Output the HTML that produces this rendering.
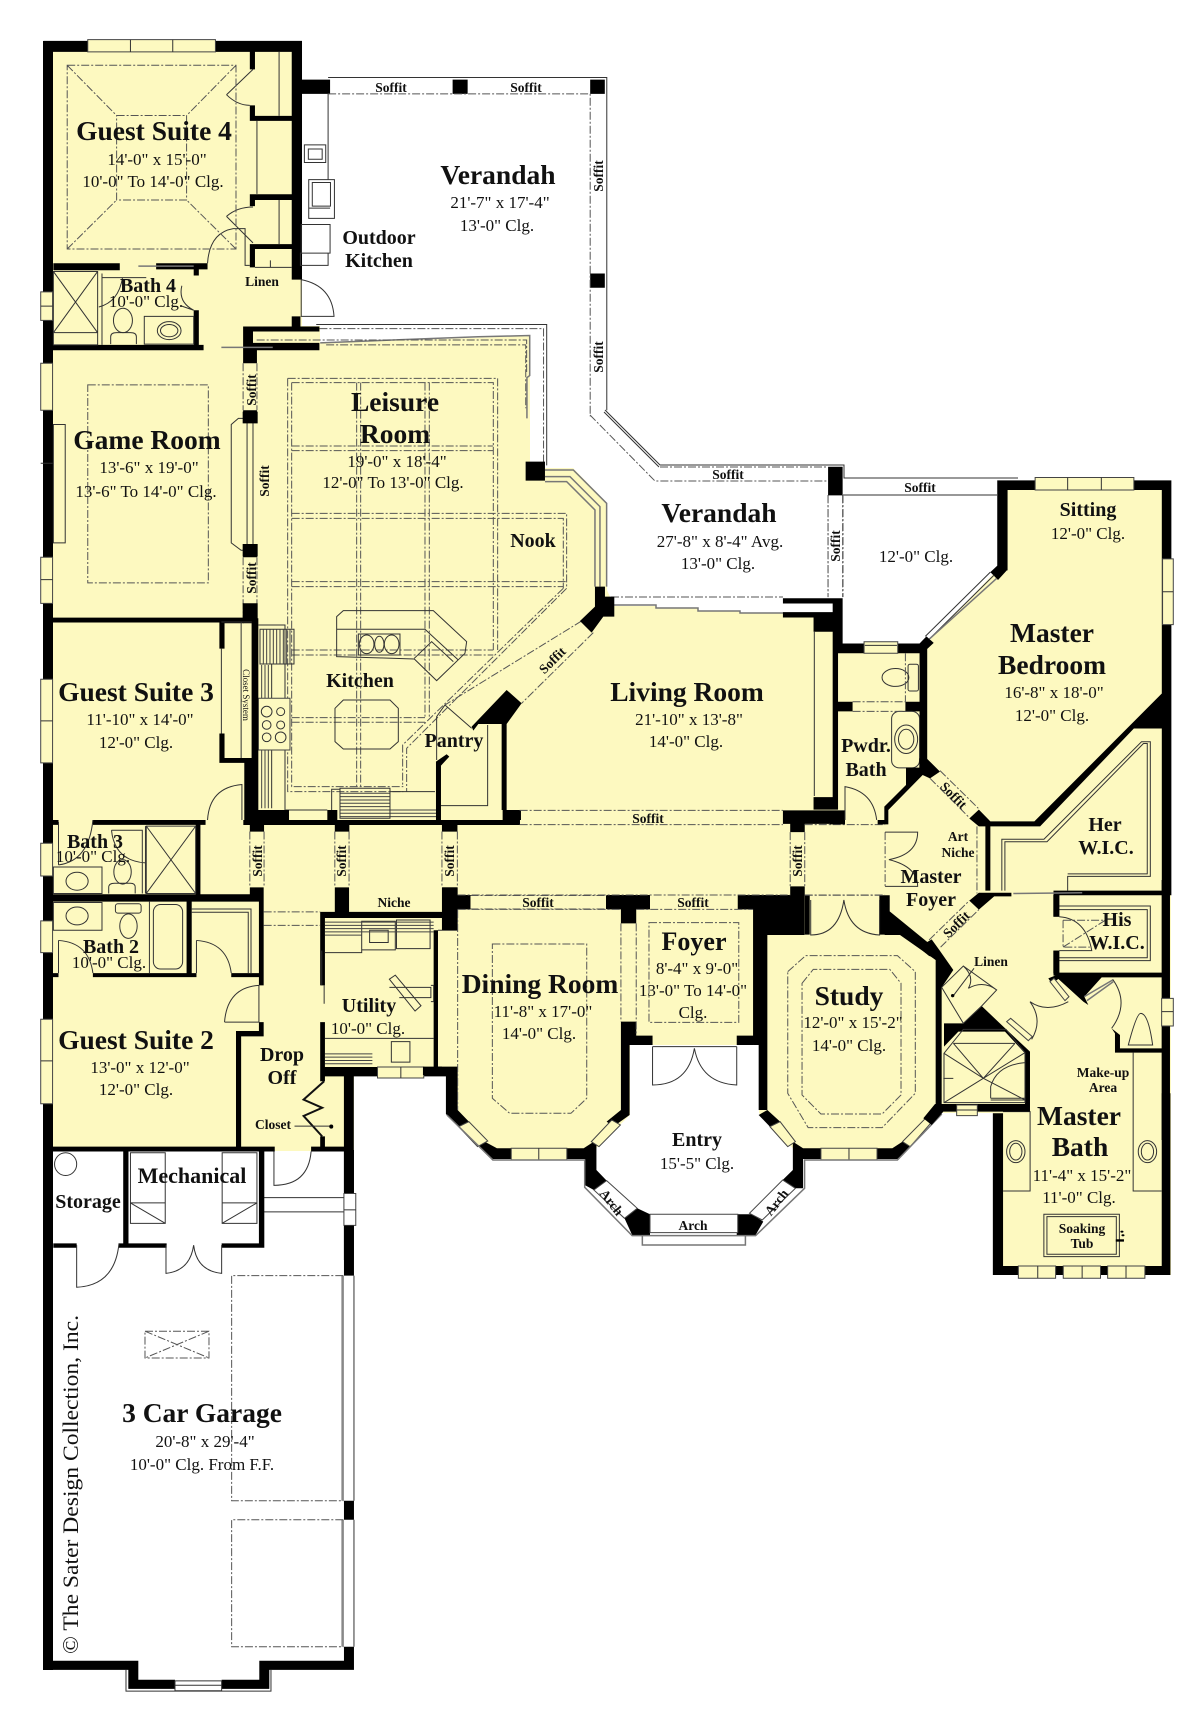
<!DOCTYPE html>
<html><head><meta charset="utf-8"><style>
html,body{margin:0;padding:0;background:#fff}
svg{display:block;filter:blur(.3px)}
text{font-family:"Liberation Serif",serif;fill:#111;text-anchor:middle}
.a{font-weight:bold;font-size:27.5px}
.b{font-weight:bold;font-size:20px}
.c{font-weight:bold;font-size:13.5px}
.r{font-size:17px}
.l{fill:none;stroke:#333;stroke-width:1;vector-effect:non-scaling-stroke}
.g{fill:none;stroke:#777;stroke-width:1.5;vector-effect:non-scaling-stroke}
.d{fill:none;stroke:#555;stroke-width:1;stroke-dasharray:8 2 2 2;vector-effect:non-scaling-stroke}
.w{fill:#fdf9c0;stroke:#444;stroke-width:1;vector-effect:non-scaling-stroke}
.e{fill:#fff;stroke:#444;stroke-width:1;vector-effect:non-scaling-stroke}
</style></head><body>
<svg width="1200" height="1724" viewBox="0 0 1200 1724" xmlns="http://www.w3.org/2000/svg">
<rect width="1200" height="1724" fill="#fff"/>
<path fill="#fdf9c0" d="M44 41H302V326H320V343L530 336V468H573L607 503V590L614 606H656V608H698V611H740V613H783H833V644H926L998 569V481H1171V1275H993V1113H941L897 1159H803L759 1113V1045H630V1115L585 1159H493L447 1114V1075H354V1151H44Z"/>
<path d="M43 41H53V1670H43Z"/>

<!-- upper-left -->
<g transform="scale(.3953,.4082)">
<path d="M110 100H764V127H110ZM738 100H764V685H738ZM632 127H645V170H632ZM632 258H645V284H738V296H632ZM632 476H738V490H645V505H632ZM632 598H738V610H645V655H632ZM135 645H303V662H135ZM395 645H525V660H503V675H490V660H395ZM490 760H503V858H490ZM110 845H515V858H110ZM738 775H760V800H738ZM615 800H808V812H640V840H808V858H650V890H615ZM615 1005H650V1035H615ZM615 1335H650V1365H615ZM615 1480H650V1525H615ZM110 1513H615V1525H110ZM740 195H835V230H740ZM1145 195H1183V230H1145ZM1493 195H1530V230H1493ZM1493 670H1530V705H1493Z"/>
<path class="w" d="M222 97H545V127H222ZM103 715H133V785H103ZM103 890H133V1005H103ZM103 1365H133V1478H103Z"/>
<path class="l" d="M330 97V127M437 97V127M103 1135H133M103 1420H133M103 750H133M706 127V284M650 296V475M706 490V598"/>
<path class="l" d="M640 170L573 232M573 232Q600 258 632 258M573 530L640 595M573 530Q600 507 640 507M525 645Q530 570 590 560H620V650H632M645 655H738M684 638V655"/>
<path class="g" d="M350 652H490M560 851H690"/>
<path class="l" d="M135 665H247V845H135ZM135 665L247 815M247 665L135 815M135 815H247M258 670V845M258 680H370M250 752Q300 740 310 680M460 750L490 760M460 700Q450 740 490 760"/>
<ellipse class="l" cx="311" cy="785" rx="24" ry="30"/><path class="l" d="M280 843V825Q280 815 295 815H330Q345 815 345 825V843M365 775H490V843H365Z"/>
<ellipse class="l" cx="428" cy="810" rx="30" ry="22"/><ellipse class="l" cx="428" cy="810" rx="22" ry="15"/>
<path class="l" d="M770 355H824V398H770ZM780 365H815V390H780ZM781 440H846V535H781ZM790 447H836V505H790ZM781 510H835M762 550H835V620H762ZM760 620H830V650H760ZM830 230V440M762 685V775H845Q840 700 762 685"/>
<path class="l" d="M830 190H1535V1005M800 795H1383V1140"/>
<path class="d" d="M830 230H1493V1020M808 805H1375V1140"/>
<path class="g" d="M810 840L940 835L1075 830L1210 825L1340 822V920L1333 925V1025"/>
<path class="d" d="M825 845H1330V1000"/>
<path class="d" d="M170 160H597V610H170ZM295 283H472V490H295ZM170 160L295 283M597 160L472 283M170 610L295 490M597 610L472 490M222 943H527V1428H222Z"/>
<path class="l" d="M135 1040H165V1330H135ZM615 1025H603L585 1040V1330L610 1348H615M625 1035V1335M640 1035V1335"/>
<path class="d" d="M615 890V1005M650 890V1005M615 1365V1480M650 1365V1480"/>
</g>

<!-- verandah lower detail, real coords -->
<path class="l" d="M605 410L660 465H844V478H1018M604 412L659 467"/>
<path class="d" d="M590 415L655 481H828M660 467H828M611 597H783M828 495V597M843 495V597"/>
<path class="g" d="M611 605H656V608H698V611H740V613H783"/>
<path class="g" d="M843 495H997"/>

<!-- leisure / kitchen -->
<g transform="translate(220,340) scale(.3333)">
<path class="d" d="M203 115H833V930M215 128H820V930M203 115V1355H550M215 128V1340H550M410 128V1340M422 128V1340M615 128V1130M628 128V1130M215 318H820M215 332H820M215 520H1040V745M215 535H1030V745M215 725H1040M215 740H1030M215 930H820M215 945H820M215 1133H615M215 1147H615M1040 745L560 1225V1355M1030 745L548 1215V1340"/>
<path class="d" d="M1085 843L675 1095M1120 878L905 1090M110 0H920V100M70 850V790"/>
<path class="g" d="M975 390H1060L1160 490V740M975 410H1050L1140 500V740M975 425H1040L1125 510V740"/>
<path d="M917 365H975V422H917ZM1125 740H1155V770H1183V830H1150L1115 878L1080 843L1125 800Z"/>
<path class="l" d="M350 950V830L370 812H640L740 905L735 940L650 1022L583 957L350 950ZM350 868H615L715 960M583 955L635 905L700 965M345 1105L370 1080H510L535 1105V1205L510 1227H370L345 1205Z"/>
<rect class="l" x="415" y="882" width="125" height="63"/>
<ellipse class="l" cx="440" cy="913" rx="22" ry="28"/><ellipse class="l" cx="478" cy="913" rx="14" ry="24"/><ellipse class="l" cx="515" cy="913" rx="22" ry="28"/>
<path class="l" d="M115 855H195V1410M120 868H222V972H120ZM155 972V1405"/>
<path fill="none" stroke="#444" stroke-width="1" vector-effect="non-scaling-stroke" d="M130 868V972M140 868V972M150 868V972M160 868V972M170 868V972M180 868V972M190 868V972M200 868V972M210 868V972M125 975V1075M135 975V1075M145 975V1075M125 1230V1405M135 1230V1405M145 1230V1405M360 1360H510M360 1370H510M360 1380H510M360 1390H510M360 1400H510M360 1410H510M360 1420H510M360 1430H510M510 1410H648M510 1420H648M510 1430H648"/>
<rect class="w" x="115" y="1075" width="95" height="155"/>
<circle class="l" cx="140" cy="1115" r="16"/><circle class="l" cx="182" cy="1115" r="12"/><circle class="l" cx="140" cy="1155" r="13"/><circle class="l" cx="182" cy="1155" r="12"/><circle class="l" cx="140" cy="1192" r="13"/><circle class="l" cx="182" cy="1192" r="16"/>
<path class="l" d="M360 1345H510V1435H360ZM335 1435V1348H360M510 1355H645M675 1095L755 1165M675 1095L650 1130V1260M663 1397H803V1155M197 1410H322"/>
<path d="M95 835H115V1440H95ZM0 835H95V850H0ZM68 790H113V835H68ZM68 215H113V250H68ZM68 612H113V650H68ZM70 1440H900V1455H70ZM100 1410H207V1440H100ZM322 1410H352V1440H322ZM90 1455H132V1475H90ZM345 1455H388V1475H345ZM668 1455H712V1475H668ZM848 1410H903V1440H848ZM648 1270H663V1440H648ZM648 1265L680 1243L688 1250L662 1278H648ZM845 1150H860V1410H845ZM755 1160L860 1050L905 1090L860 1152H775L760 1172Z"/>
</g>

<!-- west wing -->
<g transform="translate(0,620) scale(.3953,.4082)">
<path d="M555 5H568V70H555ZM555 278H568V338H640V350H555ZM637 0H650V490H637ZM618 350H637V490H618ZM235 490H520V502H235ZM110 490H148V502H110ZM495 502H507V672H495ZM110 672H667V690H110ZM632 655H667V672H632ZM655 690H667V895H655ZM472 690H485V872H472ZM235 865H497V875H235ZM110 865H148V875H110ZM585 865H667V875H585ZM655 985H667V1020H655ZM597 1007H667V1020H597ZM597 1020H610V1295H597ZM632 490H668V518H632ZM847 490H883V518H847ZM1118 490H1157V518H1118ZM847 655H883V715H847ZM810 715H1118V730H810ZM1118 655H1157V760H1118ZM1157 675H1190V708H1157ZM1533 675H1568V708H1533ZM810 730H822V895H810ZM810 985H822V1130H810ZM1097 760H1108V1095H1097ZM810 1095H955V1118H810ZM1072 1095H1150V1118H1072ZM870 1118H895V1568H870ZM810 1265H822V1295H810ZM110 1290H695V1302H110ZM787 1290H895V1302H787ZM312 1302H325V1530H312ZM655 1302H667V1530H655Z"/>
<path class="w" d="M103 145H133V350H103ZM103 547H133V627H103ZM103 737H133V815H103ZM103 978H133V1185H103ZM955 1095H1072V1122H955Z"/>
<path class="l" d="M103 247H133M103 1080H133M1014 1095V1122M560 70V278M610 5V338M637 5H560"/>
<path class="l" d="M525 490Q530 410 612 403V490M148 495V600M148 600Q225 590 235 490M282 515H360V670M368 505V670M282 515Q290 590 368 595M370 505H495V670H370ZM370 505L495 670M495 505L370 670"/>
<path class="l" d="M135 605H258V670H135Z"/><ellipse class="l" cx="195" cy="640" rx="28" ry="22"/>
<ellipse class="l" cx="310" cy="617" rx="22" ry="30"/><path class="l" d="M275 670V655Q275 645 290 645H330Q342 645 342 655V670"/>
<path class="l" d="M135 692H258V760H135Z"/><ellipse class="l" cx="195" cy="725" rx="28" ry="22"/>
<ellipse class="l" cx="325" cy="750" rx="22" ry="30"/><rect class="l" x="292" y="695" width="65" height="23" rx="6"/>
<rect class="l" x="388" y="697" width="74" height="158" rx="18"/><path class="l" d="M378 690V865"/>
<path class="l" d="M148 785V865M148 785Q225 790 235 865M497 785V865M497 785Q575 790 585 865M485 708H635V865M485 716H628V865M568 985Q575 900 655 895V985H568"/>
<path class="d" d="M667 715H810M667 748H810M632 518V655M668 518V655M847 518V655M883 518V655M1118 518V655M1157 518V655M1190 675H1533M1190 708H1533"/>
<path class="l" d="M822 815H915V738H1000V808H915M1003 735H1088V805H1003ZM935 760H982V790H935ZM985 880L1000 870L1065 945L1050 958ZM985 900H1090V925H1010M1090 895H1097V935H1090M814 810V895M820 895V940M822 1025H1097M990 1033H1037V1083H990Z"/>
<path fill="none" stroke="#444" vector-effect="non-scaling-stroke" d="M822 740H1097M822 748H1097M822 756H1097M822 764H1097M822 772H915M822 1063H942M822 1071H942M822 1079H942M822 1087H942"/>
<path fill="none" stroke="#111" stroke-width="2" vector-effect="non-scaling-stroke" d="M820 1130L768 1175L815 1195L768 1215L815 1265"/>
<path class="l" d="M745 1240H838"/><circle cx="838" cy="1241" r="5"/>
<path class="l" d="M693 1302V1385Q780 1385 787 1302M1108 760H1157M1108 1095H1118"/>
<circle class="l" cx="166" cy="1333" r="28"/>
<path class="l" d="M330 1305H418V1478H330ZM330 1428H418M330 1428L418 1478M562 1305H650V1478H562ZM562 1428H650M650 1428L562 1478M667 1415H870M667 1450H870"/>
<rect class="e" x="870" y="1405" width="30" height="78"/><path class="l" d="M870 1445H900"/>
</g>

<!-- east part -->
<g transform="translate(600,440) scale(.3827,.3571)">
<path class="d" d="M596 155V440M634 155V440"/>
<path d="M478 443H634V458H478ZM608 458H634V570H608ZM478 482H608V497H478ZM558 497H608V537H558ZM608 537H622V1000H608ZM558 1000H622V1035H558ZM478 1037H640V1075H478ZM497 1075H535V1098H497ZM497 1250H535V1275H497ZM596 75H634V155H596ZM1038 113H1493V140H1038ZM1038 113H1065V365H1038ZM1020 370L1040 350L1063 365L1040 392ZM835 570L853 550L872 568L850 590ZM620 570H855V597H620ZM835 590H855V900H835ZM622 733H660V760H622ZM798 733H835V760H798ZM1468 113H1493V1275H1468ZM1468 710V808H1395L1150 1082H1020V1068H1135ZM1007 1082H1020V1262H1007ZM965 1060L990 1035L1020 1068V1082H990ZM965 1290L990 1268H1075V1278H1030L990 1315ZM1185 1262H1490V1275H1185ZM1185 1275H1200V1335H1185ZM1185 1430H1200V1500H1185ZM535 1275H548V1385H535ZM730 1275H745V1385H730ZM745 1275H757V1320L860 1410L880 1420V1450L860 1445L745 1345Z"/>
<path class="w" d="M1137 105H1395V140H1137ZM1470 333H1498V517H1470ZM690 565H778V597H690Z"/>
<path class="l" d="M1222 105V140M1310 105V140M1470 425H1498M692 575H776M560 537V997"/>
<path class="l" d="M1020 370L850 550M1030 378L860 558"/>
<path class="g" d="M1036 388L862 556"/>
<ellipse class="l" cx="772" cy="665" rx="35" ry="25"/><rect class="l" x="805" y="628" width="27" height="75" rx="5"/>
<rect class="l" x="762" y="760" width="73" height="158" rx="20"/><ellipse class="l" cx="800" cy="838" rx="30" ry="40"/><ellipse class="l" cx="800" cy="838" rx="20" ry="28"/>
<path class="d" d="M798 597V733M660 733H798M660 760H798M535 1077H745M-210 1037H478M-210 1077H478M497 1098V1250M535 1098V1250M745 1098V1250M535 1275H745M985 1082V1270M860 1400L965 1290M890 1420L990 1315"/>
<path class="l" d="M745 1098H830Q830 1160 755 1175Q830 1195 830 1250H745"/>
<path class="l" d="M1050 1262V1118H1160L1415 845H1438V1222H1222V1262M1058 1262V1125H1168L1420 850H1430V1215H1222M1200 1305H1438V1458H1200M1200 1315H1430V1450H1200"/>
<path class="g" d="M1080 1270L1260 1268"/>
<path class="l" d="M1200 1335Q1270 1340 1285 1430H1200"/>
<path class="d" d="M1210 1345H1320M1210 1345V1420H1280M1210 1420L1320 1345"/>
</g>

<!-- powder / foyer junction -->
<g transform="translate(830,640) scale(.3333)">
<path d="M290 355L330 395L300 415L278 405L175 510V553H143V540H163V500L228 435V383H268V355ZM0 540H45V553H0Z"/>
<path class="d" d="M330 392L445 505M300 415L415 530"/>
<path class="l" d="M45 540V440Q130 455 140 540"/>
</g>

<!-- south-centre -->
<g transform="translate(400,860) scale(.5102,.3333)">
<path d="M83 82H113V210H83ZM113 105H138V148H113ZM405 105H490V148H463V190H433V148H405ZM433 485H463V527H495V555H433ZM660 527H692V555H660ZM662 105H793V225H720V750H703V555H692V148H662ZM433 555H450V765L433 775ZM433 750L450 765L418 800L405 785ZM90 620H113V750L135 785L115 800L90 762ZM45 620H113V645H45ZM160 840L190 865H218V897H182L150 850ZM327 865H360L385 840V897H327ZM362 870H385V930L405 962L380 990L362 975ZM440 1075L465 1045L490 1063V1125H455ZM660 1063H690L712 1085L697 1125H660ZM750 960L770 930V865H790V985L775 985ZM703 765L720 750L745 785L725 800ZM770 845L790 865H825V897H790L770 865ZM935 865H965L985 845L1000 860L975 897H935ZM1030 770L1050 740L1062 760L1040 790ZM950 150L1060 300H1050L990 225H950ZM1162 760H1182V1218H1493V700H1510V1245H1162Z"/>
<path class="w" d="M218 865H327V900H218ZM825 865H935V900H825ZM115 800L135 785L172 843L152 860ZM375 845L415 780L432 795L390 860ZM725 800L745 785L775 845L760 860ZM985 845L1030 775L1040 790L1000 860ZM1212 1218H1285V1255H1212ZM1300 1218H1373V1255H1300ZM1387 1218H1460V1255H1387Z"/>
<path class="l" d="M272 865V900M880 865V900M1250 1218V1255M1337 1218V1255M1423 1218V1255"/>
<path class="e" d="M380 990L405 962L465 1045L440 1075ZM750 960L775 985L710 1080L685 1060ZM490 1063H662V1118H490Z"/>
<path class="g" d="M92 765L182 900H362V982L455 1127H697L793 985V900H975L1062 762M475 1127V1155H677V1127"/>
<path class="d" d="M113 105H765M113 148H433M463 148H692M113 150V750M433 190V485M463 190V527M181 252H366V715L335 760H215L181 715ZM488 188H664V487H488ZM760 335L795 287H975L1010 335V700L945 803H800L760 700ZM788 370L810 328H960L982 370V705L945 762H825L788 705ZM793 105H950"/>
<path class="l" d="M495 560H660M495 560V675Q565 675 577 565Q590 670 660 675V560M805 120V225Q860 225 870 120Q880 220 940 225V120"/>
<path class="l" d="M1437 578V993H1493M1182 755H1235V993H1182"/>
<ellipse class="l" cx="1207" cy="875" rx="18" ry="33"/><ellipse class="l" cx="1207" cy="875" rx="12" ry="25"/><ellipse class="l" cx="1465" cy="875" rx="18" ry="33"/><ellipse class="l" cx="1465" cy="875" rx="12" ry="25"/>
<rect class="l" x="1262" y="1063" width="148" height="127"/><rect class="l" x="1268" y="1070" width="136" height="113"/>
<circle cx="1415" cy="1115" r="3"/><circle cx="1417" cy="1126" r="3"/><rect x="1403" y="1138" width="16" height="7"/>
</g>

<!-- master bath entry / linen / shower -->
<g transform="translate(900,880) scale(.3333)">
<path d="M0 130L75 190L95 178L118 210L160 270L125 322V680H107V240L0 165ZM190 430L245 378L310 440L390 515V545H375V520L315 455H175L132 500V430ZM70 715L105 672H390V695H130L95 735ZM375 518H390V690H375ZM460 45H478V110H460ZM460 212H478V280H460ZM470 278H785V292H470ZM785 0H810V355H785ZM785 438H810V780H785ZM445 295L470 285L478 295L455 310ZM470 292H605L553 350L565 375L550 365ZM635 445L660 465V505H785V518H645V460Z"/>
<path fill="#fdf9c0" d="M125 322L195 250L250 375L190 430Z"/>
<path class="l" d="M125 322L190 258L290 330L245 378M125 322L190 430L245 378M190 258Q225 290 205 325M160 347L222 265M205 325Q250 300 290 330"/>
<circle cx="158" cy="347" r="5"/>
<path class="w" d="M320 425L332 415L397 470L385 482ZM450 305L462 295L507 350L495 362Z"/>
<path class="l" d="M390 365Q440 400 505 365M390 365Q430 420 395 478"/>
<path class="g" d="M553 350L638 300M561 362L640 305"/>
<path class="l" d="M638 298Q690 370 635 445M685 495Q710 400 722 400Q745 400 758 495Z"/>
<path class="l" d="M132 520L190 448H318L375 518V668H132ZM160 490H345M160 490L250 595L345 490M132 520L250 595L375 518M132 668L250 595L375 660M272 655H375M272 660H375M272 655V620Q290 555 375 548M130 595H160"/>
<path class="w" d="M170 675H232V707H170ZM785 355H820V438H785Z"/>
<path class="l" d="M170 690H232M785 395H820"/>
</g>

<!-- garage -->
<g transform="translate(0,1150) scale(.3333,.3661)">
<path d="M130 1395H415V1447H525V1472H385V1420H130ZM665 1447H778V1395H1062V1420H808V1472H665ZM370 0H385V255H370ZM780 0H793V267H780ZM160 255H230V267H160ZM357 255H500V267H357ZM665 255H793V267H665ZM1032 207H1062V343H1032ZM1032 0H1062V117H1032ZM1032 958H1062V1010H1032ZM1032 1357H1062V1420H1032Z"/>
<path class="l" d="M230 260V375Q345 370 357 255M498 260V337Q570 330 581 260Q590 330 665 337V260M378 1420V1478H813V1420M525 1450H665V1477H525ZM525 1462H665M1062 343V958M1062 1010V1357"/>
<path fill="none" stroke="#888" stroke-width="2.5" vector-effect="non-scaling-stroke" d="M1028 343V958M1028 1010V1357"/>
<path class="d" d="M1030 343H695V958H1030M1030 1010H695V1357H1030M435 495H627V568H435ZM435 495L627 568M627 495L435 568"/>
</g>

<!-- TEXT -->
<text class="a" x="154" y="140">Guest Suite 4</text>
<text class="r" x="157" y="165">14'-0" x 15'-0"</text>
<text class="r" x="153" y="187">10'-0" To 14'-0" Clg.</text>
<text class="a" x="498" y="184">Verandah</text>
<text class="r" x="500" y="208">21'-7" x 17'-4"</text>
<text class="r" x="497" y="231">13'-0" Clg.</text>
<text class="b" x="379" y="244">Outdoor</text>
<text class="b" x="379" y="267">Kitchen</text>
<text class="c" x="262" y="286">Linen</text>
<text class="b" x="148" y="292">Bath 4</text>
<text class="r" x="146" y="307">10'-0" Clg.</text>
<text class="a" x="147" y="449">Game Room</text>
<text class="r" x="149" y="473">13'-6" x 19'-0"</text>
<text class="r" x="146" y="497">13'-6" To 14'-0" Clg.</text>
<text class="a" x="395" y="411">Leisure</text>
<text class="a" x="395" y="443">Room</text>
<text class="r" x="397" y="467">19'-0" x 18'-4"</text>
<text class="r" x="393" y="488">12'-0" To 13'-0" Clg.</text>
<text class="b" x="533" y="547">Nook</text>
<text class="b" x="360" y="687">Kitchen</text>
<text class="b" x="454" y="747">Pantry</text>
<text class="c" x="391" y="92">Soffit</text>
<text class="c" x="526" y="92">Soffit</text>
<text class="c" transform="translate(598,176) rotate(-90)" dy="5">Soffit</text>
<text class="c" transform="translate(598,357) rotate(-90)" dy="5">Soffit</text>
<text class="c" transform="translate(251,390) rotate(-90)" dy="5">Soffit</text>
<text class="c" transform="translate(264,481) rotate(-90)" dy="5">Soffit</text>
<text class="c" transform="translate(251,578) rotate(-90)" dy="5">Soffit</text>
<text class="c" transform="translate(552,660) rotate(-45)" dy="5">Soffit</text>
<text class="c" transform="translate(257,861) rotate(-90)" dy="5">Soffit</text>
<text class="c" transform="translate(341,861) rotate(-90)" dy="5">Soffit</text>
<text class="c" transform="translate(449,861) rotate(-90)" dy="5">Soffit</text>
<text class="c" transform="translate(797,861) rotate(-90)" dy="5">Soffit</text>
<text class="c" x="394" y="907">Niche</text>
<text class="c" x="538" y="907">Soffit</text>
<text class="c" x="693" y="907">Soffit</text>
<text class="c" x="648" y="823">Soffit</text>
<text class="c" x="728" y="479">Soffit</text>
<text class="c" x="920" y="492">Soffit</text>
<text class="c" transform="translate(835,546) rotate(-90)" dy="5">Soffit</text>
<text class="c" transform="translate(954,795) rotate(45)" dy="5">Soffit</text>
<text class="c" transform="translate(956,924) rotate(-45)" dy="5">Soffit</text>
<text class="a" x="719" y="522">Verandah</text>
<text class="r" x="720" y="547">27'-8" x 8'-4" Avg.</text>
<text class="r" x="718" y="569">13'-0" Clg.</text>
<text class="r" x="916" y="562">12'-0" Clg.</text>
<text class="b" x="1088" y="516">Sitting</text>
<text class="r" x="1088" y="539">12'-0" Clg.</text>
<text class="a" x="1052" y="642">Master</text>
<text class="a" x="1052" y="674">Bedroom</text>
<text class="r" x="1054" y="698">16'-8" x 18'-0"</text>
<text class="r" x="1052" y="721">12'-0" Clg.</text>
<text class="a" x="687" y="701">Living Room</text>
<text class="r" x="689" y="725">21'-10" x 13'-8"</text>
<text class="r" x="686" y="747">14'-0" Clg.</text>
<text class="b" x="866" y="752">Pwdr.</text>
<text class="b" x="866" y="776">Bath</text>
<text class="b" x="1105" y="831">Her</text>
<text class="b" x="1106" y="854">W.I.C.</text>
<text class="c" x="958" y="841">Art</text>
<text class="c" x="958" y="857">Niche</text>
<text class="b" x="931" y="883">Master</text>
<text class="b" x="931" y="906">Foyer</text>
<text class="b" x="1117" y="926">His</text>
<text class="b" x="1117" y="949">W.I.C.</text>
<text class="a" x="694" y="950" style="font-size:26px">Foyer</text>
<text class="r" x="697" y="974">8'-4" x 9'-0"</text>
<text class="r" x="693" y="996">13'-0" To 14'-0"</text>
<text class="r" x="693" y="1018">Clg.</text>
<text class="a" x="849" y="1005">Study</text>
<text class="r" x="853" y="1028">12'-0" x 15'-2"</text>
<text class="r" x="849" y="1051">14'-0" Clg.</text>
<text class="a" x="540" y="993">Dining Room</text>
<text class="r" x="543" y="1017">11'-8" x 17'-0"</text>
<text class="r" x="539" y="1039">14'-0" Clg.</text>
<text class="b" x="697" y="1146">Entry</text>
<text class="r" x="697" y="1169">15'-5" Clg.</text>
<text class="c" transform="translate(612,1202) rotate(52)" dy="5">Arch</text>
<text class="c" x="693" y="1230">Arch</text>
<text class="c" transform="translate(776,1202) rotate(-52)" dy="5">Arch</text>
<text class="a" x="1079" y="1125">Master</text>
<text class="a" x="1080" y="1156">Bath</text>
<text class="r" x="1082" y="1181">11'-4" x 15'-2"</text>
<text class="r" x="1079" y="1203">11'-0" Clg.</text>
<text class="c" x="1103" y="1077">Make-up</text>
<text class="c" x="1103" y="1092">Area</text>
<text class="c" x="1082" y="1233">Soaking</text>
<text class="c" x="1082" y="1248">Tub</text>
<text class="c" x="991" y="966">Linen</text>
<text class="a" x="136" y="701">Guest Suite 3</text>
<text class="r" x="140" y="725">11'-10" x 14'-0"</text>
<text class="r" x="136" y="748">12'-0" Clg.</text>
<text class="b" x="95" y="848">Bath 3</text>
<text class="r" x="93" y="862">10'-0" Clg.</text>
<text class="b" x="111" y="953">Bath 2</text>
<text class="r" x="109" y="968">10'-0" Clg.</text>
<text class="a" x="136" y="1049">Guest Suite 2</text>
<text class="r" x="140" y="1073">13'-0" x 12'-0"</text>
<text class="r" x="136" y="1095">12'-0" Clg.</text>
<text class="b" x="369" y="1012">Utility</text>
<text class="r" x="368" y="1034">10'-0" Clg.</text>
<text class="b" x="282" y="1061">Drop</text>
<text class="b" x="282" y="1084">Off</text>
<text class="c" x="273" y="1129">Closet</text>
<text class="b" x="192" y="1183" style="font-size:22px">Mechanical</text>
<text class="b" x="88" y="1208">Storage</text>
<text class="a" x="202" y="1422">3 Car Garage</text>
<text class="r" x="205" y="1447">20'-8" x 29'-4"</text>
<text class="r" x="202" y="1470">10'-0" Clg. From F.F.</text>
<text transform="translate(78,1654) rotate(-90)" style="font-size:22px;text-anchor:start" textLength="339" lengthAdjust="spacingAndGlyphs">© The Sater Design Collection, Inc.</text>
<text transform="translate(243,695) rotate(90)" style="font-size:9px">Closet System</text>
</svg>
</body></html>
